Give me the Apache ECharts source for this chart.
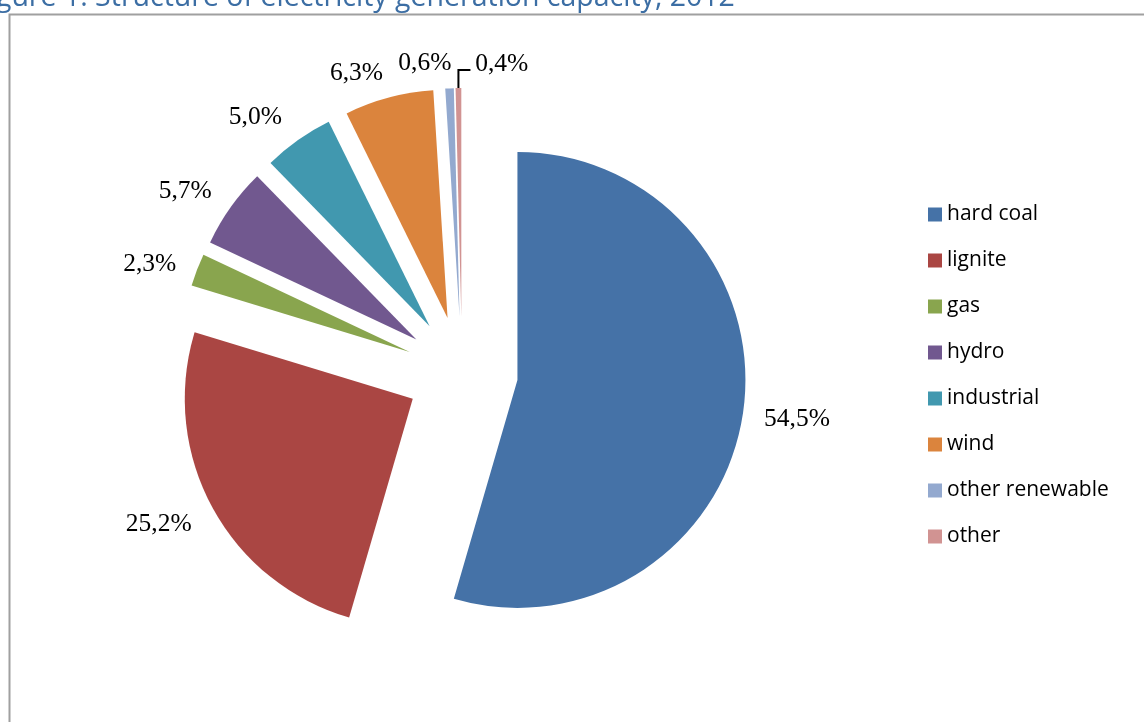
<!DOCTYPE html>
<html>
<head>
<meta charset="utf-8">
<script src="https://cdn.jsdelivr.net/npm/echarts@6/dist/echarts.min.js"></script>
<style>html,body{margin:0;padding:0;background:#fff;}#c{width:1144px;height:722px;}</style>
</head>
<body>
<div id="c"></div>
<script>
const titleText = 'Figure 1. Structure of electricity generation capacity, 2012';
const categories = ['hard coal', 'lignite', 'gas', 'hydro', 'industrial', 'wind', 'other renewable', 'other'];
const shares = [54.5, 25.2, 2.3, 5.7, 5.0, 6.3, 0.6, 0.4];
const colors = ['#4572A7', '#AA4643', '#89A54E', '#71588F', '#4198AF', '#DB843D', '#93A9CF', '#D19392'];

// label styling (leader length and small text nudges via padding, top-anchored)
const lineLengths = [16, 20, 20, 22, 26, 26, 26, 18];
const labelPads = [[-8, 0, 0, 0], [-5, -2, 0, 0], [-11, -3, 0, 0], [-16, -4, 0, 0], [-15, -4, 0, 0], [-12, -6, 0, 0], [-12, -8, 0, 0], [-19, 0, 0, 22]];

const chart = echarts.init(document.getElementById('c'), null, {renderer: 'canvas'});
const lastIdx = categories.length - 1;
const data = categories.map((name, i) => ({
  name: name,
  value: shares[i],
  selected: true,
  itemStyle: {color: colors[i]},
  label: {padding: labelPads[i]},
  labelLine: {show: i === lastIdx, length: lineLengths[i]}
}));

chart.setOption({
  animation: false,
  backgroundColor: '#ffffff',
  graphic: [
    {type: 'rect', shape: {x: 9.5, y: 14.5, width: 1300, height: 900}, style: {fill: 'none', stroke: '#a0a0a0', lineWidth: 2}, silent: true},
    {type: 'text', x: -26, y: 12, style: {text: titleText, font: '28.5px "Open Sans"', fill: '#3C6EA4', textBaseline: 'alphabetic', verticalAlign: 'bottom'}, silent: true}
  ],
  legend: {
    orient: 'vertical',
    left: 923,
    top: 199,
    itemWidth: 14,
    itemHeight: 14,
    itemGap: 25,
    icon: 'rect',
    selectedMode: false,
    textStyle: {fontFamily: 'Open Sans', fontSize: 21, color: '#000'},
    data: categories
  },
  series: [{
    type: 'pie',
    center: [462, 372],
    radius: 228,
    startAngle: 90,
    clockwise: true,
    selectedMode: 'multiple',
    selectedOffset: 56,
    avoidLabelOverlap: false,
    emphasis: {disabled: true},
    itemStyle: {borderWidth: 0},
    label: {
      show: true,
      position: 'outside',
      fontFamily: 'Liberation Serif',
      fontSize: 25.5,
      color: '#000',
      formatter: p => p.value.toFixed(1).replace('.', ',') + '%'
    },
    labelLine: {show: false, length: 20, length2: 0, lineStyle: {color: '#000', width: 2}},
    labelLayout: function (params) {
      const out = {verticalAlign: 'top'};
      if (params.dataIndex !== lastIdx) return out;
      out.align = 'left';
      if (params.labelLinePoints && params.labelLinePoints.length) {
        const p0 = params.labelLinePoints[0];
        const up = lineLengths[lastIdx], side = 12;
        out.labelLinePoints = [[p0[0], p0[1]], [p0[0], p0[1] - up], [p0[0] + side, p0[1] - up]];
      }
      return out;
    },
    data: data
  }]
});
</script>
</body>
</html>
